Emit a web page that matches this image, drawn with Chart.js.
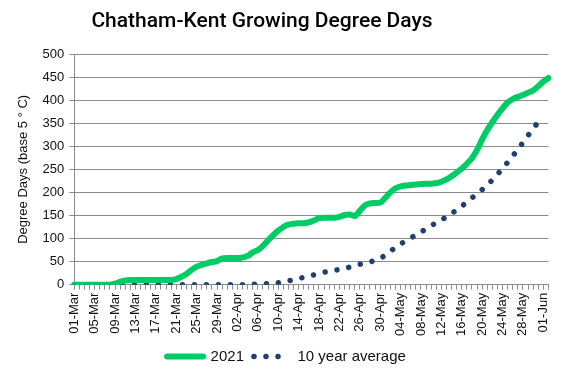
<!DOCTYPE html>
<html>
<head>
<meta charset="utf-8">
<script src="https://cdn.jsdelivr.net/npm/chart.js@4"></script>
<style>
  html, body { margin: 0; padding: 0; background: #fff; }
  #wrap { width: 567px; height: 378px; }
</style>
</head>
<body>
<div id="wrap"><canvas id="gdd"></canvas></div>
<script>
// daily labels 01-Mar .. 02-Jun
const days = [
  "01-Mar","02-Mar","03-Mar","04-Mar","05-Mar","06-Mar","07-Mar","08-Mar","09-Mar","10-Mar",
  "11-Mar","12-Mar","13-Mar","14-Mar","15-Mar","16-Mar","17-Mar","18-Mar","19-Mar","20-Mar",
  "21-Mar","22-Mar","23-Mar","24-Mar","25-Mar","26-Mar","27-Mar","28-Mar","29-Mar","30-Mar",
  "31-Mar","01-Apr","02-Apr","03-Apr","04-Apr","05-Apr","06-Apr","07-Apr","08-Apr","09-Apr",
  "10-Apr","11-Apr","12-Apr","13-Apr","14-Apr","15-Apr","16-Apr","17-Apr","18-Apr","19-Apr",
  "20-Apr","21-Apr","22-Apr","23-Apr","24-Apr","25-Apr","26-Apr","27-Apr","28-Apr","29-Apr",
  "30-Apr","01-May","02-May","03-May","04-May","05-May","06-May","07-May","08-May","09-May",
  "10-May","11-May","12-May","13-May","14-May","15-May","16-May","17-May","18-May","19-May",
  "20-May","21-May","22-May","23-May","24-May","25-May","26-May","27-May","28-May","29-May",
  "30-May","31-May","01-Jun","02-Jun"
];

const gdd2021 = [
  0,0,0,0,0,0,0,0,2,6,
  9,10,10,10,10,10,10,10,10,10,
  12,17,23,32,39,43,46,49,51,57,
  58,58,58,59,62,70,75,84,96,107,
  117,125,130,132,133,133,135,139,144,145,
  145,145,147,151,152,149,160,172,176,177,
  178,188,200,209,213,215,216,217,218,219,
  219,220,223,228,235,243,252,262,274,292,
  315,335,352,368,382,395,402,407,411,416,
  421,430,440,448
];

const avg10yr = [
  0,0,0,0,0,0,0,0,0,0,
  0,0,0,0,0,0,0,0,0,0,
  0,0,0,0,0,0,0,0,0,0,
  0,0,0,0,0,1,1,2,2,3,
  4,6,8,11,13,16,19,21,24,27,
  29,31,33,35,38,41,44,47,49,53,
  57,64,72,81,88,95,101,108,114,121,
  128,134,140,147,154,162,170,179,188,197,
  206,216,227,239,252,265,279,293,308,323,
  338,352,362,null
];

const seriesNames = ["2021", "10 year average"];
const yTicks = [0, 50, 100, 150, 200, 250, 300, 350, 400, 450, 500];

const GREEN = "#00cc66";
const BLUE = "#1f3e72";
const GRID = "#8c8c8c";

const titlePlugin = {
  id: "topTitle",
  afterDraw(chart) {
    const ctx = chart.ctx;
    ctx.save();
    ctx.fillStyle = "#000";
    ctx.font = "500 21px Roboto, 'Liberation Sans', sans-serif";
    ctx.textAlign = "center";
    ctx.textBaseline = "middle";
    ctx.fillText("Chatham-Kent Growing Degree Days", 262, 22);
    ctx.restore();
  }
};

new Chart(document.getElementById("gdd"), {
  type: "line",
  data: {
    labels: days,
    datasets: [
      {
        label: seriesNames[0],
        data: gdd2021,
        borderColor: GREEN,
        backgroundColor: GREEN,
        borderWidth: 6,
        borderCapStyle: "round",
        borderJoinStyle: "round",
        pointRadius: 0,
        cubicInterpolationMode: "monotone",
        fill: false
      },
      {
        label: seriesNames[1],
        data: avg10yr,
        borderColor: BLUE,
        backgroundColor: BLUE,
        borderWidth: 5.5,
        borderDash: [0.01, 12],
        borderCapStyle: "round",
        pointRadius: 0,
        cubicInterpolationMode: "monotone",
        fill: false
      }
    ]
  },
  options: {
    responsive: true,
    maintainAspectRatio: false,
    animation: false,
    layout: { padding: { top: 54, right: 10, left: 16, bottom: 4 } },
    plugins: {
      title: { display: false },
      tooltip: { enabled: false },
      legend: {
        position: "bottom",
        labels: {
          color: "#111",
          font: { family: "'Liberation Sans', sans-serif", size: 15 },
          usePointStyle: true,
          pointStyleWidth: 36,
          boxWidth: 36,
          boxHeight: 6,
          padding: 10,
          generateLabels(chart) {
            return chart.data.datasets.map((ds, i) => ({
              text: ds.label,
              datasetIndex: i,
              pointStyle: "line",
              strokeStyle: ds.borderColor,
              fillStyle: ds.borderColor,
              lineWidth: ds.borderWidth,
              lineCap: "round",
              lineDash: ds.borderDash || [],
              fontColor: "#111"
            }));
          }
        }
      }
    },
    scales: {
      x: {
        offset: false,
        grid: {
          display: true,
          drawOnChartArea: false,
          drawTicks: true,
          tickLength: 5,
          color: GRID
        },
        border: { color: GRID, width: 1 },
        ticks: {
          autoSkip: false,
          maxRotation: 90,
          minRotation: 90,
          padding: 3,
          color: "#111",
          font: { family: "'Liberation Sans', sans-serif", size: 13 },
          callback(val, idx) {
            return idx % 4 === 0 ? days[idx] : "";
          }
        }
      },
      y: {
        min: yTicks[0],
        max: yTicks[yTicks.length - 1],
        afterBuildTicks(scale) {
          scale.ticks = yTicks.map(v => ({ value: v }));
        },
        grid: {
          color: GRID,
          tickLength: 5,
          drawTicks: true
        },
        border: { color: GRID, width: 1 },
        ticks: {
          padding: 5,
          color: "#111",
          font: { family: "'Liberation Sans', sans-serif", size: 13 }
        },
        title: {
          display: true,
          text: "Degree Days (base 5 ° C)",
          color: "#111",
          font: { family: "'Liberation Sans', sans-serif", size: 13 },
          padding: { top: 0, bottom: 6 }
        }
      }
    }
  },
  plugins: [titlePlugin]
});
</script>
</body>
</html>
